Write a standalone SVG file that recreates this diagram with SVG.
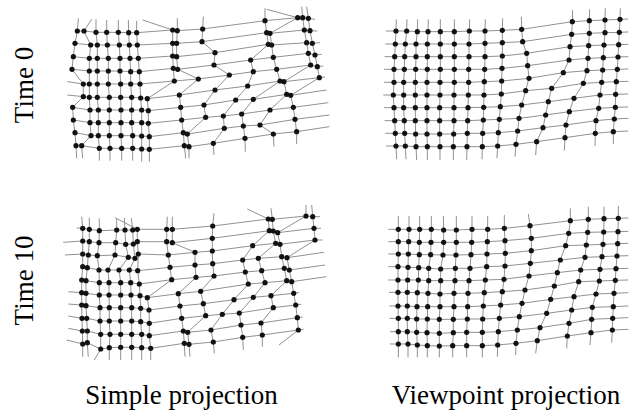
<svg xmlns="http://www.w3.org/2000/svg" width="636" height="416" viewBox="0 0 636 416">
<style>
.c,.r{fill:none;stroke:#919191;stroke-width:1}
.z .c,.z .r{stroke-width:3}
.z .r{marker-mid:url(#m)}
.z .r.s{marker-start:url(#m)}
.k .r{marker-mid:url(#n)}
.k .r.s{marker-start:url(#n)}
text{font-family:"Liberation Serif","Times New Roman",serif;font-size:27px;fill:#000}
</style>
<defs>
<marker id="m" markerUnits="userSpaceOnUse" markerWidth="18" markerHeight="18" refX="9" refY="9"><circle cx="9" cy="9" r="7.8" fill="#111"/></marker>
<marker id="n" markerUnits="userSpaceOnUse" markerWidth="6" markerHeight="6" refX="3" refY="3"><circle cx="3" cy="3" r="2.6" fill="#111"/></marker>
</defs>
<rect width="636" height="416" fill="#fff"/>

<g id="simple-time0" class="z" transform="translate(60,0) scale(0.33333)">
<g id="simple-time0-columns">
<polyline class="c" points="55,55 52,93 45,130 40,170 36,208 70,252 70,290 38,322 40,360 45,398 48,437 50,475"/>
<polyline class="c" points="95,58 72,93 92,135 88,175 88,213 88,252 88,292 90,330 90,368 93,407 65,437 68,475"/>
<polyline class="c" points="108,58 108,97 112,135 112,175 112,213 112,252 112,292 115,330 115,368 115,407 118,445 118,482"/>
<polyline class="c" points="140,60 140,97 142,135 145,175 145,213 145,252 148,292 148,330 148,368 148,407 150,445 150,482"/>
<polyline class="c" points="175,60 175,97 178,135 180,175 180,213 182,252 182,292 183,330 183,368 183,407 185,445 185,482"/>
<polyline class="c" points="205,60 206,98 208,135 210,175 212,215 212,252 215,292 215,330 215,368 218,407 218,445 218,482"/>
<polyline class="c" points="230,62 230,98 232,135 235,175 238,215 240,252 242,294 245,330 245,368 245,408 245,447 245,485"/>
<polyline class="c" points="248,60 338,90 338,130 338,168 340,205 343,243 262,296 265,332 265,370 268,410 268,448 268,485"/>
<polyline class="c" points="352,55 352,92 350,130 350,170 353,208 415,237 358,285 362,322 365,360 370,398 373,437 377,475"/>
<polyline class="c" points="430,50 428,87 426,125 465,158 462,195 508,225 465,270 432,315 437,352 382,402 387,440 387,475"/>
<polyline class="c" points="615,25 615,62 620,98 625,133 572,180 580,215 563,258 527,300 490,348 493,385 460,430 462,465"/>
<polyline class="c" points="620,28 713,53 630,100 635,135 640,172 650,208 660,243 580,298 545,342 550,378 555,415 556,455"/>
<polyline class="c" points="725,20 728,53 733,90 740,128 745,160 752,195 672,245 680,283 630,330 600,375 640,402 642,440"/>
<polyline class="c" points="740,20 745,55 750,92 757,130 765,165 772,200 778,233 692,286 700,322 705,358 710,395 710,432"/>
</g>
<g id="simple-time0-rows">
<polyline class="r s" points="52,93 72,93 108,97 140,97 175,97 206,98 230,98 338,90 352,92 428,87 615,62 713,53 728,53 745,55 765,58"/>
<polyline class="r s" points="45,130 92,135 112,135 142,135 178,135 208,135 232,135 338,130 350,130 426,125 620,98 630,100 733,90 750,92 772,93"/>
<polyline class="r s" points="40,170 88,175 112,175 145,175 180,175 210,175 235,175 338,168 350,170 465,158 625,133 635,135 740,128 757,130 780,128"/>
<polyline class="r s" points="36,208 88,213 112,213 145,213 180,213 212,215 238,215 340,205 353,208 462,195 572,180 640,172 745,160 765,165 785,163"/>
<polyline class="r" points="22,245 70,252 88,252 112,252 145,252 182,252 212,252 240,252 343,243 415,237 508,225 580,215 650,208 752,195 772,200 790,198"/>
<polyline class="r" points="22,285 70,290 88,292 112,292 148,292 182,292 215,292 242,294 262,296 358,285 465,270 563,258 660,243 672,245 778,233 795,231"/>
<polyline class="r s" points="38,322 90,330 115,330 148,330 183,330 215,330 245,330 265,332 362,322 432,315 527,300 580,298 680,283 692,286 800,270"/>
<polyline class="r s" points="40,360 90,368 115,368 148,368 183,368 215,368 245,368 265,370 365,360 437,352 490,348 545,342 630,330 700,322 805,308"/>
<polyline class="r s" points="45,398 93,407 115,407 148,407 183,407 218,407 245,408 268,410 370,398 382,402 493,385 550,378 600,375 705,358 808,345"/>
<polyline class="r s" points="48,437 65,437 118,445 150,445 185,445 218,445 245,447 268,448 373,437 387,440 460,430 555,415 640,402 710,395 808,380"/>
</g>
</g>

<g id="viewpoint-time0" class="z" transform="translate(370,0) scale(0.33333)">
<g id="viewpoint-time0-columns">
<polyline class="c" points="79,58 78,93 76,132 74,170 72,208 72,247 70,285 72,323 74,362 76,400 78,438 80,478"/>
<polyline class="c" points="111,58 110,93 106,132 104,170 103,208 101,247 101,285 101,323 103,362 104,400 106,438 108,478"/>
<polyline class="c" points="143,58 142,95 138,132 138,170 137,208 136,247 136,285 136,323 136,362 137,402 138,440 140,480"/>
<polyline class="c" points="175,58 174,95 172,132 172,170 172,208 171,247 171,285 171,323 171,362 171,402 172,440 172,480"/>
<polyline class="c" points="211,58 211,95 211,132 211,170 211,208 210,247 210,285 209,323 209,362 209,402 210,440 210,480"/>
<polyline class="c" points="253,58 253,95 253,132 253,170 253,208 253,247 252,285 252,323 252,362 251,402 250,440 250,480"/>
<polyline class="c" points="299,58 298,93 297,132 297,170 296,208 296,247 295,285 294,323 293,362 292,400 291,440 290,480"/>
<polyline class="c" points="346,58 345,93 345,130 345,170 344,208 343,245 342,285 341,322 340,360 338,400 337,440 336,478"/>
<polyline class="c" points="398,55 397,91 397,128 397,168 396,205 395,243 394,282 391,320 388,358 385,398 383,438 381,475"/>
<polyline class="c" points="454,50 455,88 458,125 470,160 473,197 477,235 467,272 455,315 447,355 443,393 438,433 435,470"/>
<polyline class="c" points="608,30 607,65 605,103 600,140 597,180 580,218 545,265 535,305 527,345 519,383 500,425 497,465"/>
<polyline class="c" points="659,28 658,62 658,100 656,137 654,175 651,212 640,250 612,295 598,335 588,375 585,413 583,452"/>
<polyline class="c" points="706,25 705,60 705,98 702,135 700,173 698,210 695,247 690,285 686,325 678,362 676,400 675,438"/>
<polyline class="c" points="751,25 750,58 748,97 746,134 744,171 742,208 739,245 737,283 736,322 733,357 730,395 730,432"/>
</g>
<g id="viewpoint-time0-rows">
<polyline class="r" points="48,93 78,93 110,93 142,95 174,95 211,95 253,95 298,93 345,93 397,91 455,88 607,65 658,62 705,60 750,58 775,57"/>
<polyline class="r" points="46,132 76,132 106,132 138,132 172,132 211,132 253,132 297,132 345,130 397,128 458,125 605,103 658,100 705,98 748,97 775,96"/>
<polyline class="r" points="44,170 74,170 104,170 138,170 172,170 211,170 253,170 297,170 345,170 397,168 470,160 600,140 656,137 702,135 746,134 775,133"/>
<polyline class="r" points="42,208 72,208 103,208 137,208 172,208 211,208 253,208 296,208 344,208 396,205 473,197 597,180 654,175 700,173 744,171 775,170"/>
<polyline class="r" points="42,247 72,247 101,247 136,247 171,247 210,247 253,247 296,247 343,245 395,243 477,235 580,218 651,212 698,210 742,208 775,207"/>
<polyline class="r" points="40,285 70,285 101,285 136,285 171,285 210,285 252,285 295,285 342,285 394,282 467,272 545,265 640,250 695,247 739,245 775,244"/>
<polyline class="r" points="42,323 72,323 101,323 136,323 171,323 209,323 252,323 294,323 341,322 391,320 455,315 535,305 612,295 690,285 737,283 775,282"/>
<polyline class="r" points="44,362 74,362 103,362 136,362 171,362 209,362 252,362 293,362 340,360 388,358 447,355 527,345 598,335 686,325 736,322 775,321"/>
<polyline class="r" points="46,400 76,400 104,400 137,402 171,402 209,402 251,402 292,400 338,400 385,398 443,393 519,383 588,375 678,362 733,357 775,355"/>
<polyline class="r" points="48,438 78,438 106,438 138,440 172,440 210,440 250,440 291,440 337,440 383,438 438,433 500,425 585,413 676,400 730,395 775,393"/>
</g>
</g>

<g id="simple-time10" class="k">
<g id="simple-time10-columns">
<polyline class="c" points="81.7,216.7 82.7,228.3 82.7,241 82.7,254 82.7,266.7 81.7,280 81.7,292.7 81.7,305 82,318.3 82.3,331 82.7,344 82.7,356.7"/>
<polyline class="c" points="89.3,217.7 89.3,229.3 89.3,241.7 88.3,255 87.3,267.7 86,280.7 86,293.3 86,305.7 86.7,318.3 87.3,331 87.3,342.7 88.3,356.7"/>
<polyline class="c" points="99.3,218.3 99.3,230.7 99,242.7 97.3,255.7 99,270 99.3,282.7 99.3,295 100,307.7 100,321 100.7,334.3 100.7,349 94.3,360"/>
<polyline class="c" points="116.7,219 116.7,230 115.7,242.7 115,255 108,270 109,282.7 109,295 109.3,307.7 109.3,321 110,334.3 109.3,347.7 109.3,360"/>
<polyline class="c" points="124.3,218 125,230 125.7,244.3 128.3,257.3 119,270 120.7,282.7 120.7,295 120.7,307.7 120.7,321 120.7,334.3 120.7,347.3 120.7,360"/>
<polyline class="c" points="131.3,218 132.7,230 133.3,244 135,258.3 129.3,270 130.7,282.7 131,295 131.7,307.7 131.7,321 131.7,334.3 131.7,347.3 131.7,360"/>
<polyline class="c" points="115,217.7 137.3,229.3 137.3,241.7 138.3,254 137.7,270.7 139.3,284 140,295.7 140.7,308.3 140.7,321.7 141.7,334.3 141.7,347.7 141.7,360"/>
<polyline class="c" points="167.3,216.7 166.7,229.3 166.7,241.7 168.3,255 170,267.3 171.7,279.7 147.3,297.7 149,310 149.3,323.3 149.3,335.7 150.7,348.3 150.7,360"/>
<polyline class="c" points="172.3,216.7 172.3,229.3 172.3,242.7 195,252.3 195,265 196,277.3 178.3,293.7 180,306 181.7,318.3 183.3,331 184.3,343.3 185,356.7"/>
<polyline class="c" points="214,213.3 212.7,226 212.3,238.3 212.3,251 212.7,263.7 214,276 200.7,291.3 203.3,303.7 205.7,315.7 187.7,332.3 189,344.3 190,356.7"/>
<polyline class="c" points="247.3,209 268.3,219 269.3,230.7 252.7,245.7 242.7,260 245.3,272 248.3,284 234,299.7 222.3,314.3 211,330 213.3,342 214.3,353.3"/>
<polyline class="c" points="271,208.3 272.3,219.3 273.3,231 275.7,243.3 258.3,258.3 261.7,270.7 265,282.7 253.3,297.3 239.3,313 241,325 242.7,337.3 243.3,350"/>
<polyline class="c" points="306,205 306,216 277.7,232.7 280,244.3 281.7,256.7 284.3,268.3 286.7,280.7 271,295.7 273.3,307.7 261,323 262.3,335 262.3,346.7"/>
<polyline class="c" points="311.7,205 312.7,216.7 314,228.3 315,240 287,257.7 289.3,270 291.7,281.7 293.7,293.3 295.7,305 297.3,317.7 298.3,330 279,345"/>
</g>
<g id="simple-time10-rows">
<polyline class="r" points="76.7,228 82.7,228.3 89.3,229.3 99.3,230.7 116.7,230 125,230 132.7,230 137.3,229.3 166.7,229.3 172.3,229.3 212.7,226 268.3,219 272.3,219.3 306,216 312.7,216.7 320,216.7"/>
<polyline class="r" points="63.3,242.3 82.7,241 89.3,241.7 99,242.7 115.7,242.7 125.7,244.3 133.3,244 137.3,241.7 166.7,241.7 172.3,242.7 212.3,238.3 269.3,230.7 273.3,231 277.7,232.7 314,228.3 321,228.3"/>
<polyline class="r" points="65,255 82.7,254 88.3,255 97.3,255.7 115,255 128.3,257.3 135,258.3 138.3,254 168.3,255 195,252.3 212.3,251 252.7,245.7 275.7,243.3 280,244.3 315,240 322.3,240"/>
<polyline class="r s" points="82.7,266.7 87.3,267.7 99,270 108,270 119,270 129.3,270 137.7,270.7 170,267.3 195,265 212.7,263.7 242.7,260 258.3,258.3 281.7,256.7 287,257.7 324,252.3"/>
<polyline class="r s" points="81.7,280 86,280.7 99.3,282.7 109,282.7 120.7,282.7 130.7,282.7 139.3,284 171.7,279.7 196,277.3 214,276 245.3,272 261.7,270.7 284.3,268.3 289.3,270 325,265"/>
<polyline class="r" points="68.3,291.7 81.7,292.7 86,293.3 99.3,295 109,295 120.7,295 131,295 140,295.7 147.3,297.7 178.3,293.7 200.7,291.3 248.3,284 265,282.7 286.7,280.7 291.7,281.7 326.3,276.7"/>
<polyline class="r" points="68.3,304 81.7,305 86,305.7 100,307.7 109.3,307.7 120.7,307.7 131.7,307.7 140.7,308.3 149,310 180,306 203.3,303.7 234,299.7 253.3,297.3 271,295.7 293.7,293.3 299,292.5"/>
<polyline class="r" points="68.3,316 82,318.3 86.7,318.3 100,321 109.3,321 120.7,321 131.7,321 140.7,321.7 149.3,323.3 181.7,318.3 205.7,315.7 222.3,314.3 239.3,313 273.3,307.7 295.7,305 301,304.3"/>
<polyline class="r" points="68.3,328.3 82.3,331 87.3,331 100.7,334.3 110,334.3 120.7,334.3 131.7,334.3 141.7,334.3 149.3,335.7 183.3,331 187.7,332.3 211,330 241,325 261,323 297.3,317.7 302.5,317"/>
<polyline class="r" points="66.7,340 82.7,344 87.3,342.7 100.7,349 109.3,347.7 120.7,347.3 131.7,347.3 141.7,347.7 150.7,348.3 184.3,343.3 189,344.3 213.3,342 242.7,337.3 262.3,335 298.3,330 303.5,329.3"/>
</g>
</g>

<g id="viewpoint-time10" class="z" transform="translate(370,200) scale(0.33333)">
<g id="viewpoint-time10-columns">
<polyline class="c" points="85,48 85,88 85,125 85,162 84,200 84,240 84,277 84,318 85,355 85,395 85,432 85,472"/>
<polyline class="c" points="117,48 117,88 116,125 115,162 114,202 113,240 112,277 112,318 112,355 112,395 114,432 114,472"/>
<polyline class="c" points="149,48 149,88 148,127 148,164 146,203 145,240 142,278 141,320 140,357 140,397 142,435 142,472"/>
<polyline class="c" points="184,48 184,88 183,127 182,164 176,205 176,242 174,280 173,320 172,357 171,398 172,437 172,472"/>
<polyline class="c" points="220,48 221,90 221,127 219,165 212,207 212,242 210,282 210,320 208,358 208,400 208,438 208,472"/>
<polyline class="c" points="259,48 259,90 259,127 258,165 256,205 255,242 252,280 252,320 250,358 250,398 248,437 248,472"/>
<polyline class="c" points="306,48 306,88 305,127 303,164 300,205 297,242 294,280 293,320 292,357 290,397 290,437 290,472"/>
<polyline class="c" points="353,48 353,88 352,125 351,162 350,200 346,240 343,278 340,318 338,357 337,397 337,437 337,472"/>
<polyline class="c" points="403,45 403,85 405,122 406,160 405,198 402,238 397,275 392,315 388,355 385,395 383,435 382,470"/>
<polyline class="c" points="475,42 480,77 484,115 484,152 481,190 477,228 465,270 456,310 448,350 442,390 438,430 437,465"/>
<polyline class="c" points="601,25 601,62 596,100 587,137 571,180 562,218 553,258 542,298 530,340 510,383 502,422 497,460"/>
<polyline class="c" points="655,20 655,58 653,97 649,135 645,172 632,210 626,245 612,290 605,330 597,370 592,408 590,445"/>
<polyline class="c" points="702,20 702,56 701,96 699,133 696,170 690,208 688,243 678,282 667,322 665,358 663,398 660,435"/>
<polyline class="c" points="745,18 745,55 744,95 743,131 741,168 738,206 736,241 732,280 730,320 728,355 727,390 725,428"/>
</g>
<g id="viewpoint-time10-rows">
<polyline class="r" points="55,88 85,88 117,88 149,88 184,88 221,90 259,90 306,88 353,88 403,85 480,77 601,62 655,58 702,56 745,55 775,54"/>
<polyline class="r" points="55,125 85,125 116,125 148,127 183,127 221,127 259,127 305,127 352,125 405,122 484,115 596,100 653,97 701,96 744,95 775,94"/>
<polyline class="r" points="55,162 85,162 115,162 148,164 182,164 219,165 258,165 303,164 351,162 406,160 484,152 587,137 649,135 699,133 743,131 775,130"/>
<polyline class="r" points="55,200 84,200 114,202 146,203 176,205 212,207 256,205 300,205 350,200 405,198 481,190 571,180 645,172 696,170 741,168 775,167"/>
<polyline class="r" points="55,240 84,240 113,240 145,240 176,242 212,242 255,242 297,242 346,240 402,238 477,228 562,218 632,210 690,208 738,206 775,205"/>
<polyline class="r" points="57,277 84,277 112,277 142,278 174,280 210,282 252,280 294,280 343,278 397,275 465,270 553,258 626,245 688,243 736,241 775,240"/>
<polyline class="r" points="58,318 84,318 112,318 141,320 173,320 210,320 252,320 293,320 340,318 392,315 456,310 542,298 612,290 678,282 732,280 775,278"/>
<polyline class="r" points="58,355 85,355 112,355 140,357 172,357 208,358 250,358 292,357 338,357 388,355 448,350 530,340 605,330 667,322 730,320 775,318"/>
<polyline class="r" points="60,395 85,395 112,395 140,397 171,398 208,400 250,398 290,397 337,397 385,395 442,390 510,383 597,370 665,358 728,355 775,353"/>
<polyline class="r" points="60,432 85,432 114,432 142,435 172,437 208,438 248,437 290,437 337,437 383,435 438,430 502,422 592,408 663,398 727,390 775,388"/>
</g>
</g>

<g id="labels">
<text transform="translate(33,85) rotate(-90)" text-anchor="middle">Time 0</text>
<text transform="translate(33,280.5) rotate(-90)" text-anchor="middle">Time 10</text>
<text x="181.5" y="404" text-anchor="middle">Simple projection</text>
<text x="506" y="404" text-anchor="middle">Viewpoint projection</text>
</g>
</svg>
